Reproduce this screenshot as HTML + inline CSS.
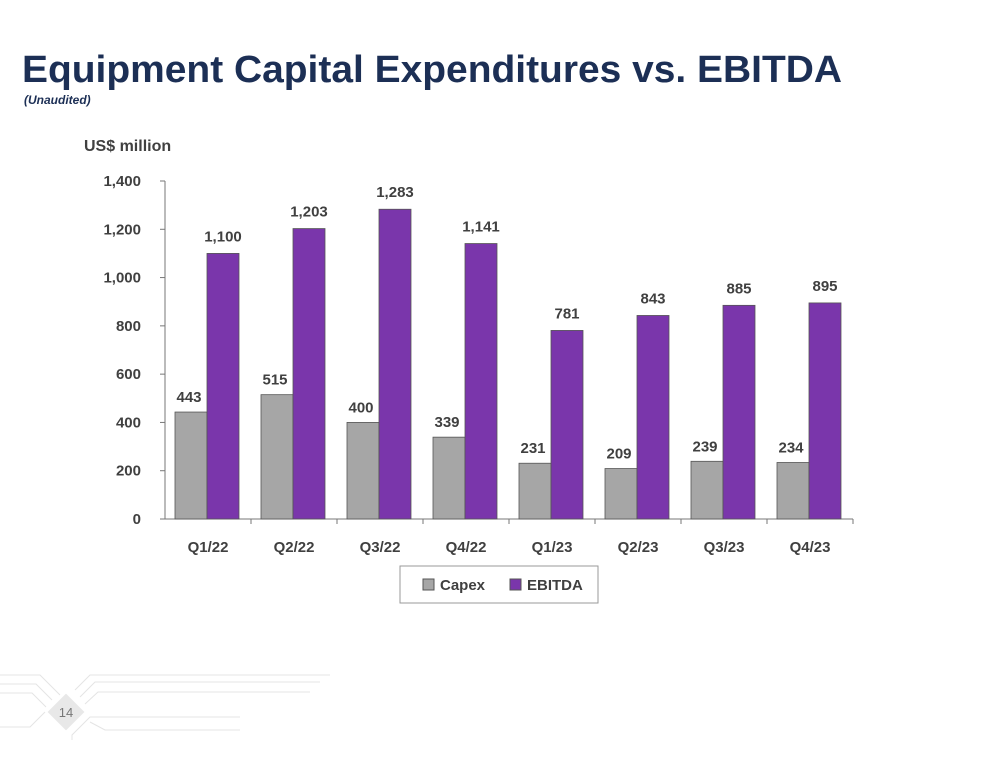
<!DOCTYPE html>
<html><head><meta charset="utf-8"><style>
body{margin:0;background:#fff;width:1000px;height:752px;overflow:hidden;font-family:"Liberation Sans",sans-serif}
</style></head><body>
<svg width="1000" height="752" xmlns="http://www.w3.org/2000/svg">
<text x="22" y="82" font-size="38" font-weight="bold" fill="#1c2f55" textLength="820" lengthAdjust="spacingAndGlyphs">Equipment Capital Expenditures vs. EBITDA</text>
<text x="24" y="104" font-size="12" font-style="italic" font-weight="bold" fill="#1c2f55">(Unaudited)</text>
<text x="84" y="151" font-size="16" font-weight="bold" fill="#404040">US$ million</text>
<g id="chart"></g>
<g>
<rect x="400" y="566" width="198" height="37" fill="#fff" stroke="#999"/>
<rect x="423" y="579" width="11" height="11" fill="#a6a6a6" stroke="#555"/>
<text x="440" y="590" font-size="15" font-weight="bold" fill="#404040">Capex</text>
<rect x="510" y="579" width="11" height="11" fill="#7a36ab" stroke="#555"/>
<text x="527" y="590" font-size="15" font-weight="bold" fill="#404040">EBITDA</text>
</g>
<g stroke="#e4e4e4" fill="none">
<path d="M0 675H40L60 695M0 684H36L52 700M0 693H32L46 707M0 727H30L45 712M75 690L90 675H330M80 697L95 682H320M85 704L98 692H310M90 722L105 730H240M72 740L72 735L90 717H240"/>
<rect x="53" y="699" width="26" height="26" transform="rotate(45 66 712)" fill="#e8e8e8" stroke="none"/>
</g>
<text x="66" y="717" font-size="13" fill="#777" text-anchor="middle">14</text>
</svg>
<script>
const categories=["Q1/22","Q2/22","Q3/22","Q4/22","Q1/23","Q2/23","Q3/23","Q4/23"];
const capex=[443,515,400,339,231,209,239,234];
const ebitda=[1100,1203,1283,1141,781,843,885,895];
const yTicks=[0,200,400,600,800,1000,1200,1400];
const NS="http://www.w3.org/2000/svg";
const g=document.getElementById("chart");
const x0=165,x1=853,yB=519,yT=181,yMax=1400;
const band=(x1-x0)/categories.length;
const y=v=>yB-(v/yMax)*(yB-yT);
const xb=i=>x0+i*band;
function mk(t,a){const e=document.createElementNS(NS,t);for(const k in a)e.setAttribute(k,a[k]);g.appendChild(e);return e;}
const ax=mk("path",{d:`M${x0} ${yT}V${yB}H${x1}`,stroke:"#777",fill:"none"});


yTicks.forEach(v=>{
 const tk=mk("line",{x1:x0-5,x2:x0,y1:y(v),y2:y(v),stroke:"#777"});
 
 
 const t=mk("text",{x:x0-24,y:y(v)+5,"font-size":15,"font-weight":"bold",fill:"#404040","text-anchor":"end"});
 t.textContent=v.toLocaleString("en-US");
 
 
});
categories.forEach((c,i)=>{
 const xt=mk("line",{x1:xb(i+1),x2:xb(i+1),y1:yB,y2:yB+5,stroke:"#777"});
 
 
 const bs=xb(i)+10;
 const b1=mk("rect",{x:bs,y:y(capex[i]),width:32,height:yB-y(capex[i]),fill:"#a6a6a6",stroke:"#555","stroke-width":0.8});
 
 
 const b2=mk("rect",{x:bs+32,y:y(ebitda[i]),width:32,height:yB-y(ebitda[i]),fill:"#7a36ab",stroke:"#555","stroke-width":0.8});
 
 
 const l1=mk("text",{x:bs+14,y:y(capex[i])-10,"font-size":15,"font-weight":"bold",fill:"#404040","text-anchor":"middle"});
 l1.textContent=capex[i].toLocaleString("en-US");
 
 
 const l2=mk("text",{x:bs+48,y:y(ebitda[i])-12,"font-size":15,"font-weight":"bold",fill:"#404040","text-anchor":"middle"});
 l2.textContent=ebitda[i].toLocaleString("en-US");
 
 
 const cl=mk("text",{x:xb(i)+band/2,y:552,"font-size":15,"font-weight":"bold",fill:"#404040","text-anchor":"middle"});
 cl.textContent=c;
 
 
});
</script>
</body></html>
